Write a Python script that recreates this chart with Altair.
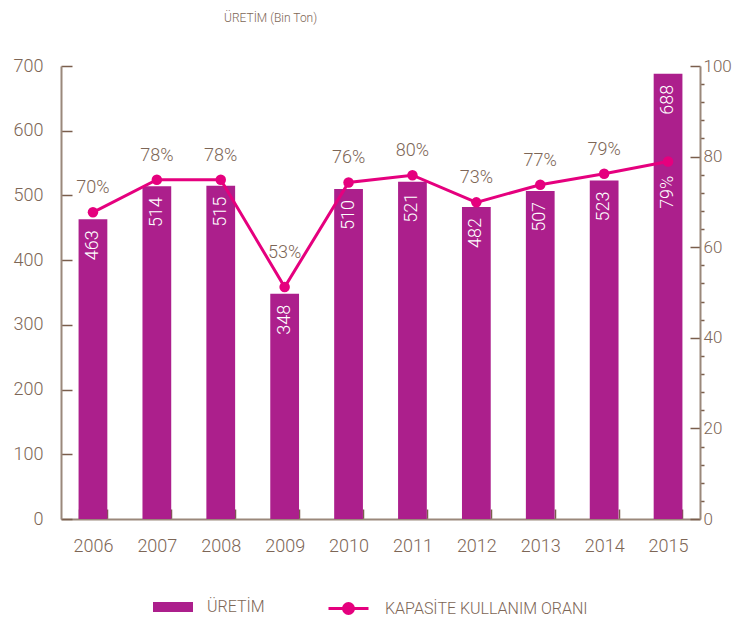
import altair as alt
import pandas as pd

yillar = ["2006", "2007", "2008", "2009", "2010", "2011", "2012", "2013", "2014", "2015"]
uretim = [463, 514, 515, 348, 510, 521, 482, 507, 523, 688]
kapasite = [67.7, 74.9, 74.9, 51.2, 74.3, 75.9, 69.9, 73.8, 76.2, 78.9]
kapasite_etiket = ["70%", "78%", "78%", "53%", "76%", "80%", "73%", "77%", "79%", "79%"]
sol_eksen = [0, 100, 200, 300, 400, 500, 600, 700]
sag_eksen = list(range(0, 101, 4))

BAR = "#AC1F8C"
LINE = "#E5007E"
TXT = "#7D6656"
DOMAIN = "#9A887B"
TICK = "#7A5E4C"
FONT = "Roboto"
FW = 300

df = pd.DataFrame({
    "yil": yillar,
    "uretim": uretim,
    "kapasite": kapasite,
    "etiket": kapasite_etiket,
    "s1": ["ÜRETİM"] * len(yillar),
    "s2": ["KAPASİTE KULLANIM ORANI"] * len(yillar),
})

x = alt.X("yil:N", title=None, sort=yillar,
          scale=alt.Scale(paddingInner=0.55, paddingOuter=0.275),
          axis=alt.Axis(labelAngle=0, tickBand="extent", tickSize={"expr": "-10"},
                        labelPadding=28, labelFontSize=18, labelColor=TXT, labelFont=FONT,
                        labelFontWeight=FW,
                        domainColor=DOMAIN, domainWidth=2, tickColor=TICK, tickWidth=1.5))

rect_path = "M-1,-0.25H1V0.25H-1Z"
line_path = "M-1,0H1M0.25,0A0.25,0.25 0 1,1 -0.25,0A0.25,0.25 0 1,1 0.25,0Z"

bars = alt.Chart(df).mark_bar(color=BAR).encode(
    x=x,
    y=alt.Y("uretim:Q", title=None, scale=alt.Scale(domain=[0, 700], nice=False),
            axis=alt.Axis(values=sol_eksen, tickCount=20, tickSize={"expr": "-11"},
                          labelPadding=29, labelFontSize=18, labelColor=TXT, labelFont=FONT,
                          labelFontWeight=FW, grid=False,
                          domainColor=DOMAIN, domainWidth=2, tickColor=TICK, tickWidth=1.5)),
    color=alt.Color("s1:N", scale=alt.Scale(domain=["ÜRETİM"], range=[BAR]),
                    legend=alt.Legend(title=None, orient="none", legendX=92, legendY=521,
                                      symbolType=rect_path, symbolSize=1600, symbolStrokeWidth=0,
                                      labelFontSize=16, labelColor=TXT, labelFont=FONT,
                                      labelFontWeight=FW, labelOffset=14, labelLimit=300)),
)

bar_text = alt.Chart(df).mark_text(angle=270, align="right", baseline="middle", dx=-11,
                                    color="white", fontSize=18, font=FONT,
                                    fontWeight=FW).encode(
    x=alt.X("yil:N", sort=yillar),
    y=alt.Y("uretim:Q"),
    text=alt.Text("uretim:Q"),
)

left = alt.layer(bars, bar_text)

yr = alt.Y("kapasite:Q", title=None, scale=alt.Scale(domain=[0, 100], nice=False),
           axis=alt.Axis(orient="right", values=sag_eksen, tickCount=60, labelOverlap=False,
                         labelExpr="datum.value % 20 === 0 ? datum.label : ''",
                         tickSize={"expr": "datum.value % 20 === 0 ? -10 : 4"},
                         labelPadding=13, labelFontSize=17, labelColor=TXT, labelFont=FONT,
                         labelFontWeight=FW,
                         grid=False, domainColor=DOMAIN, domainWidth=2, tickColor=TICK,
                         tickWidth=1.5))

line = alt.Chart(df).mark_line(strokeWidth=3).encode(
    x=alt.X("yil:N", sort=yillar),
    y=yr,
    stroke=alt.Stroke("s2:N", scale=alt.Scale(domain=["KAPASİTE KULLANIM ORANI"], range=[LINE]),
                      legend=alt.Legend(title=None, orient="none", legendX=266, legendY=521,
                                        symbolType=line_path, symbolSize=1600,
                                        symbolFillColor=LINE, symbolStrokeColor=LINE,
                                        symbolStrokeWidth=3,
                                        labelFontSize=16, labelColor=TXT, labelFont=FONT,
                                        labelFontWeight=FW, labelOffset=15, labelLimit=300)),
)

points = alt.Chart(df).mark_circle(size=110, color=LINE, opacity=1).encode(
    x=alt.X("yil:N", sort=yillar),
    y=alt.Y("kapasite:Q"),
)

rate_text = alt.Chart(df).transform_filter(
    (alt.datum.yil != "2015") & (alt.datum.yil != "2009")).mark_text(
    baseline="middle", dy=-24, color=TXT, fontSize=18, font=FONT, fontWeight=FW).encode(
    x=alt.X("yil:N", sort=yillar),
    y=alt.Y("kapasite:Q"),
    text="etiket:N",
)

rate_text_2009 = alt.Chart(df).transform_filter(alt.datum.yil == "2009").mark_text(
    baseline="middle", dy=-34, color=TXT, fontSize=18, font=FONT, fontWeight=FW).encode(
    x=alt.X("yil:N", sort=yillar),
    y=alt.Y("kapasite:Q"),
    text="etiket:N",
)

rate_text_last = alt.Chart(df).transform_filter(alt.datum.yil == "2015").mark_text(
    angle=270, align="right", baseline="middle", dx=-14, color="white", fontSize=18,
    font=FONT, fontWeight=FW).encode(
    x=alt.X("yil:N", sort=yillar),
    y=alt.Y("kapasite:Q"),
    text="etiket:N",
)

right = alt.layer(line, points, rate_text, rate_text_2009, rate_text_last)

chart = alt.layer(left, right).resolve_scale(y="independent", color="independent").properties(
    width=639, height=453,
    autosize=alt.AutoSizeParams(type="none"),
    padding={"left": 53, "top": 58, "right": 32, "bottom": 99},
    title=alt.TitleParams("ÜRETİM (Bin Ton)", anchor="start", frame="group", dx=163, offset=32,
                          fontSize=12, fontWeight=FW, color=TXT, font=FONT),
).configure_view(stroke=None).configure_legend(padding=0)

chart.save("out.html", embed_options={"renderer": "svg", "actions": False})
